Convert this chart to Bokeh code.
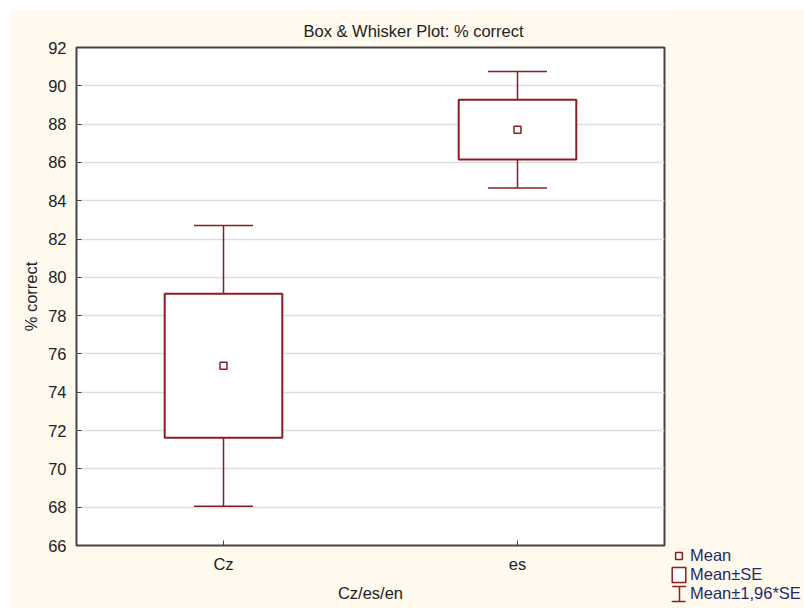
from bokeh.plotting import figure
from bokeh.layouts import row
from bokeh.models import (FactorRange, Range1d, FixedTicker, ColumnDataSource, Whisker,
                          TeeHead, Legend, LegendItem)
from bokeh.embed import file_html
from bokeh.resources import INLINE

# ---- data ----
categories = ["Cz", "es"]
means = [75.38, 87.71]
se_low = [71.62, 86.15]
se_high = [79.14, 89.27]
ci_low = [68.05, 84.67]
ci_high = [82.71, 90.75]
y_ticks = [66, 68, 70, 72, 74, 76, 78, 80, 82, 84, 86, 88, 90, 92]
legend_labels = ["Mean", "Mean±SE", "Mean±1,96*SE"]

RED = "#8C1D22"
BG = "#FFF9EE"
FONT = "Liberation Sans"
TXT = "#222222"
FS = "16.5px"

src = ColumnDataSource(dict(cat=categories, mean=means, se_low=se_low, se_high=se_high,
                            ci_low=ci_low, ci_high=ci_high))

p = figure(width=661, height=599, x_range=FactorRange(factors=categories),
           y_range=Range1d(66, 92), output_backend="svg", toolbar_location=None,
           title="Box & Whisker Plot: % correct",
           min_border_left=67, min_border_right=6, min_border_top=38, min_border_bottom=63)
p.frame_align = False
p.background_fill_color = "white"
p.border_fill_color = BG
p.outline_line_color = "#444444"
p.outline_line_width = 2

p.title.text_font = FONT
p.title.text_font_size = FS
p.title.text_font_style = "normal"
p.title.text_color = TXT
p.title.align = "left"
p.title.offset = 227
p.title.standoff = 16

p.yaxis.ticker = FixedTicker(ticks=y_ticks)
p.ygrid.ticker = FixedTicker(ticks=y_ticks)
p.xgrid.grid_line_color = None
p.ygrid.grid_line_color = "#DEDEDE"
p.ygrid.grid_line_width = 1.5

for ax in (p.xaxis, p.yaxis):
    ax.axis_line_color = None
    ax.major_tick_in = 5
    ax.major_tick_out = 0
    ax.major_tick_line_color = "#444444"
    ax.minor_tick_line_color = None
    ax.major_label_text_font = FONT
    ax.major_label_text_font_size = FS
    ax.major_label_text_color = TXT
    ax.axis_label_text_font = FONT
    ax.axis_label_text_font_size = FS
    ax.axis_label_text_font_style = "normal"
    ax.axis_label_text_color = TXT

p.yaxis.axis_label = "% correct"
p.yaxis.major_label_standoff = 10
p.yaxis.axis_label_standoff = 5
p.xaxis.axis_label = "Cz/es/en"
p.xaxis.major_label_standoff = 9
p.xaxis.axis_label_standoff = 8

# Mean +/- SE boxes
p.vbar(x="cat", width=0.4, bottom="se_low", top="se_high", source=src,
       fill_color="white", line_color=RED, line_width=2)

# Mean +/- 1.96*SE whiskers
up = Whisker(base="cat", lower="se_high", upper="ci_high", source=src, dimension="height",
             line_color=RED, line_width=1.5, lower_head=None,
             upper_head=TeeHead(size=59, line_color=RED, line_width=1.5))
lo = Whisker(base="cat", lower="ci_low", upper="se_low", source=src, dimension="height",
             line_color=RED, line_width=1.5, upper_head=None,
             lower_head=TeeHead(size=59, line_color=RED, line_width=1.5))
p.add_layout(up)
p.add_layout(lo)

# Means
p.scatter(x="cat", y="mean", source=src, marker="square", size=7,
          fill_color="white", line_color=RED, line_width=1.5)

# ---- legend panel (bottom right, outside the plot frame) ----
lf = figure(width=134, height=599, x_range=p.x_range, y_range=p.y_range,
            output_backend="svg", toolbar_location=None, min_border=0,
            x_axis_location=None, y_axis_location=None)
lf.frame_align = False
lf.background_fill_color = BG
lf.border_fill_color = BG
lf.outline_line_color = None
for g in lf.grid:
    g.visible = False

r_mean = lf.scatter(x="cat", y="mean", source=src, marker="square", size=7,
                    fill_color="white", line_color=RED, line_width=1.5, visible=False)
r_box = lf.vbar(x="cat", width=0.4, bottom="se_low", top="se_high", source=src,
                fill_color="white", line_color=RED, line_width=1.5, visible=False)
# whisker symbol: dashed outline gives the two caps, a single hatch line gives the stem
r_ibeam = lf.vbar(x="cat", width=0.4, bottom="ci_low", top="ci_high", source=src,
                  fill_alpha=0, line_color=RED, line_width=1.5, line_dash="14 15",
                  hatch_pattern="vertical_line", hatch_color=RED, hatch_weight=1.5,
                  hatch_scale=17, visible=False)

legend = Legend(items=[LegendItem(label=legend_labels[0], renderers=[r_mean]),
                       LegendItem(label=legend_labels[1], renderers=[r_box]),
                       LegendItem(label=legend_labels[2], renderers=[r_ibeam])],
                location=(0, 5.5), glyph_width=17, glyph_height=19, spacing=0, padding=0,
                margin=0, label_standoff=3, label_height=19, border_line_color=None,
                background_fill_alpha=0, inactive_fill_alpha=0, label_text_font=FONT,
                label_text_font_size=FS, label_text_color="#1F2B6A")
lf.add_layout(legend)

layout = row(p, lf, margin=(9, 0, 0, 9))
open("out.html", "w").write(file_html(layout, INLINE))
